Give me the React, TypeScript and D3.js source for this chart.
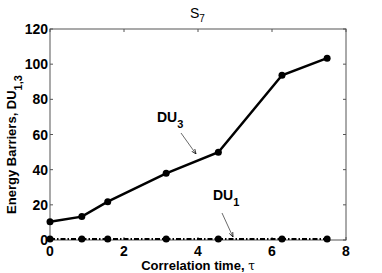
import React from "react";
import * as d3 from "d3";

const tau = [0, 0.86, 1.56, 3.14, 4.55, 6.27, 7.49];
const du3 = [10.4, 13.3, 21.8, 37.9, 49.9, 93.7, 103.4];
const du1 = [0.5, 0.5, 0.5, 0.5, 0.5, 0.5, 0.5];
const xTicks = [0, 2, 4, 6, 8];
const yTicks = [0, 20, 40, 60, 80, 100, 120];

const W = 382, H = 273;
const L = 50, R = 346, T = 29, B = 240;
const FONT = "'Liberation Sans', Arial, sans-serif";

export default function App() {
  const x = d3.scaleLinear().domain([0, 8]).range([L, R]);
  const y = d3.scaleLinear().domain([0, 120]).range([B, T]);
  const line = d3.line<number>().x((_, i) => x(tau[i])).y((d) => y(d));
  const tk = 3;
  return (
    <svg width={W} height={H} style={{ position: "absolute", left: 0, top: 0, background: "#fff" }}>
      <defs>
        <marker id="ah" viewBox="0 0 10 10" refX="10" refY="5" markerWidth="6" markerHeight="6" orient="auto">
          <path d="M0,1 L10,5 L0,9" fill="none" stroke="#000" strokeWidth="1.5" />
        </marker>
      </defs>
      <rect x={L} y={T} width={R - L} height={B - T} fill="none" stroke="#555" strokeWidth={1} />
      {xTicks.map((t) => (
        <g key={"x" + t}>
          <line x1={x(t)} x2={x(t)} y1={B} y2={B - tk} stroke="#555" />
          <line x1={x(t)} x2={x(t)} y1={T} y2={T + tk} stroke="#555" />
          <text x={x(t)} y={256} textAnchor="middle" fontFamily={FONT} fontWeight="bold" fontSize={14}>{t}</text>
        </g>
      ))}
      {yTicks.map((t) => (
        <g key={"y" + t}>
          <line x1={L} x2={L + tk} y1={y(t)} y2={y(t)} stroke="#555" />
          <line x1={R} x2={R - tk} y1={y(t)} y2={y(t)} stroke="#555" />
          <text x={L - 2} y={y(t) + 5} textAnchor="end" fontFamily={FONT} fontWeight="bold" fontSize={14}>{t}</text>
        </g>
      ))}
      <path d={line(du1) || ""} fill="none" stroke="#000" strokeWidth={2} strokeDasharray="5,2,1.5,2" />
      {du1.map((d, i) => (
        <circle key={"a" + i} cx={x(tau[i])} cy={y(d)} r={3.5} fill="#000" />
      ))}
      <path d={line(du3) || ""} fill="none" stroke="#000" strokeWidth={2.5} />
      {du3.map((d, i) => (
        <circle key={"b" + i} cx={x(tau[i])} cy={y(d)} r={3.5} fill="#000" />
      ))}
      <text x={190} y={18} fontFamily={FONT} fontSize={14}>S<tspan fontSize={10} dy={4}>7</tspan></text>
      <text x={157} y={122} fontFamily={FONT} fontWeight="bold" fontSize={14}>DU<tspan fontSize={11} dy={6}>3</tspan></text>
      <line x1={181} y1={133} x2={196} y2={154} stroke="#444" strokeWidth={0.8} markerEnd="url(#ah)" />
      <text x={213} y={200} fontFamily={FONT} fontWeight="bold" fontSize={14}>DU<tspan fontSize={11} dy={6}>1</tspan></text>
      <line x1={222} y1={213} x2={233} y2={237} stroke="#444" strokeWidth={0.8} markerEnd="url(#ah)" />
      <text x={198} y={270} textAnchor="middle" fontFamily={FONT} fontWeight="bold" fontSize={13}>Correlation time, <tspan fontWeight="normal" fontFamily="'DejaVu Serif', serif" fontSize={12}>τ</tspan></text>
      <text transform={`translate(16,${(T + B) / 2 + 10}) rotate(-90)`} textAnchor="middle" fontFamily={FONT} fontWeight="bold" fontSize={13}>Energy Barriers, DU<tspan fontSize={11} dy={6}>1,3</tspan></text>
    </svg>
  );
}
